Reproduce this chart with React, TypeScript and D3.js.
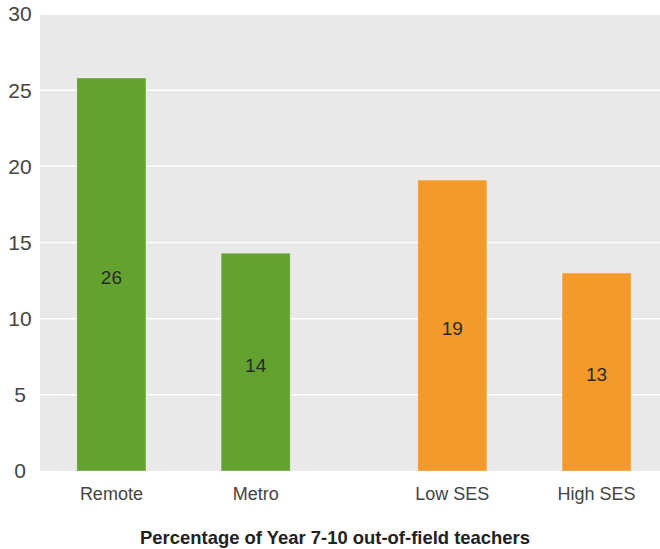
import React, { useEffect, useRef } from "react";
import * as d3 from "d3";

// data
const groups = ["Location", "SES"];
const categories = ["Remote", "Metro", "Low SES", "High SES"];
const categoryGroup = ["Location", "Location", "SES", "SES"];
const values = [25.8, 14.3, 19.1, 13.0];
const barColors = ["#64a230", "#64a230", "#f39a2a", "#f39a2a"];
const yTicks = [0, 5, 10, 15, 20, 25, 30];
const title = "Percentage of Year 7-10 out-of-field teachers";

const App = () => {
  const svgRef = useRef<SVGSVGElement>(null);

  useEffect(() => {
    const svg = d3.select(svgRef.current);
    svg.selectAll("*").remove();

    const width = 660;
    const plot = { left: 40, right: 660, top: 15, bottom: 471 };

    const y = d3.scaleLinear().domain([0, 30]).range([plot.bottom, 14]);

    // outer band for the two groups, inner band for the bars in each
    const x0 = d3
      .scaleBand()
      .domain(groups)
      .range([plot.left + 8, plot.right])
      .paddingInner(0.205)
      .paddingOuter(0);

    const x1 = d3
      .scaleBand()
      .domain(["0", "1"])
      .range([0, x0.bandwidth()])
      .paddingInner(0.521)
      .paddingOuter(0.2);

    const data = categories.map((c, i) => ({
      name: c,
      value: values[i],
      group: categoryGroup[i],
      slot: String(categoryGroup.slice(0, i).filter((g) => g === categoryGroup[i]).length),
      color: barColors[i],
    }));
    const xPos = (d) => x0(d.group) + x1(d.slot);

    // fondo gris
    svg
      .append("rect")
      .attr("x", plot.left)
      .attr("y", plot.top)
      .attr("width", plot.right - plot.left)
      .attr("height", plot.bottom - plot.top)
      .attr("fill", "#e9e9e9");

    // gridlines
    svg
      .append("g")
      .selectAll("line")
      .data(yTicks.filter((t) => t > 0 && t < 30))
      .enter()
      .append("line")
      .attr("x1", plot.left)
      .attr("x2", plot.right)
      .attr("y1", (d) => y(d))
      .attr("y2", (d) => y(d))
      .attr("stroke", "#ffffff")
      .attr("stroke-width", 1.5);

    // y tick labels
    svg
      .append("g")
      .selectAll("text")
      .data(yTicks)
      .enter()
      .append("text")
      .attr("x", 20)
      .attr("y", (d) => y(d))
      .attr("dy", "0.35em")
      .attr("text-anchor", "middle")
      .attr("fill", "#444")
      .style("font-family", "'Liberation Sans', Arial, sans-serif")
      .style("font-size", "21px")
      .text((d) => d);

    // bars
    svg
      .append("g")
      .selectAll("rect")
      .data(data)
      .enter()
      .append("rect")
      .attr("x", xPos)
      .attr("y", (d) => y(d.value))
      .attr("width", x1.bandwidth())
      .attr("height", (d) => y(0) - y(d.value))
      .attr("fill", (d) => d.color)
      .attr("stroke", "#ffffff")
      .attr("stroke-opacity", 0.35)
      .attr("stroke-width", 1);

    // value labels in the middle of each bar
    svg
      .append("g")
      .selectAll("text")
      .data(data)
      .enter()
      .append("text")
      .attr("x", (d) => xPos(d) + x1.bandwidth() / 2)
      .attr("y", (d) => (y(d.value) + y(0)) / 2)
      .attr("dy", "0.5em")
      .attr("text-anchor", "middle")
      .attr("fill", "#2a2a2a")
      .style("font-family", "'Liberation Sans', Arial, sans-serif")
      .style("font-size", "19px")
      .text((d) => Math.round(d.value));

    // category labels
    svg
      .append("g")
      .selectAll("text")
      .data(data)
      .enter()
      .append("text")
      .attr("x", (d) => xPos(d) + x1.bandwidth() / 2)
      .attr("y", 500)
      .attr("text-anchor", "middle")
      .attr("fill", "#444")
      .style("font-family", "'Liberation Sans', Arial, sans-serif")
      .style("font-size", "18px")
      .text((d) => d.name);

    // axis title, squeezed to look condensed like the original
    svg
      .append("text")
      .attr("x", width / 2 + 5)
      .attr("y", 544)
      .attr("text-anchor", "middle")
      .attr("fill", "#222")
      .attr("textLength", 390)
      .attr("lengthAdjust", "spacingAndGlyphs")
      .style("font-family", "'Liberation Sans', Arial, sans-serif")
      .style("font-weight", "bold")
      .style("font-size", "19px")
      .text(title);
  }, []);

  return (
    <svg
      ref={svgRef}
      width={660}
      height={549}
      style={{ position: "absolute", left: 0, top: 0, background: "#fff" }}
    />
  );
};

export default App;
